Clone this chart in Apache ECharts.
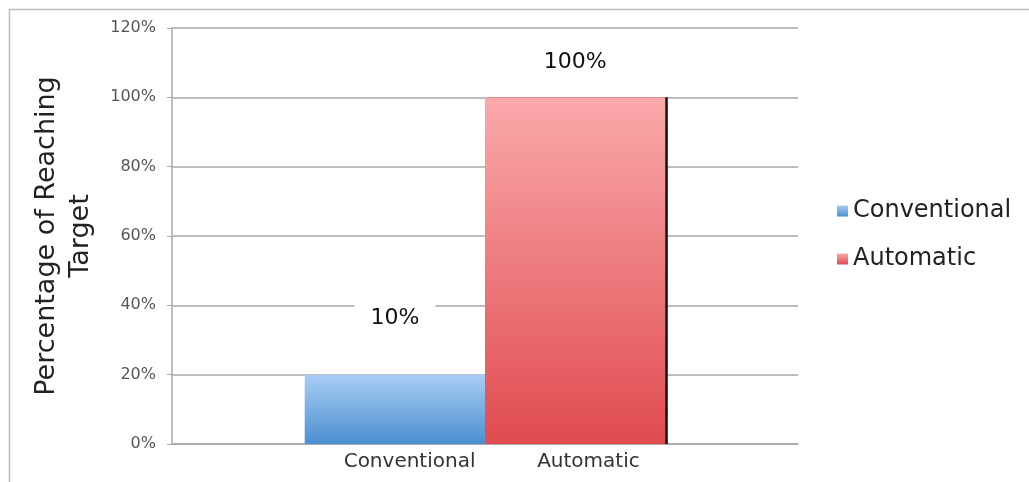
<!DOCTYPE html>
<html>
<head>
<meta charset="utf-8">
<script src="https://cdn.jsdelivr.net/npm/echarts@6/dist/echarts.min.js"></script>
<style>html,body{margin:0;padding:0;background:#fff}#c{width:1029px;height:482px}</style>
</head>
<body>
<div id="c"></div>
<script>
const seriesNames = ['Conventional', 'Automatic'];
const conventionalValues = [20];
const automaticValues = [100];
const barLabels = ['10%', '100%'];
const labelAxisCategories = ['', '', 'Conventional', '', 'Automatic', '', ''];
const yTicks = { min: 0, max: 120, interval: 20 };
const yAxisName = 'Percentage of Reaching\nTarget';

const FONT = "'DejaVu Sans', sans-serif";
const chart = echarts.init(document.getElementById('c'), null, { renderer: 'canvas' });

function grad(top, bottom) {
  return new echarts.graphic.LinearGradient(0, 0, 0, 1, [
    { offset: 0, color: top }, { offset: 1, color: bottom }
  ]);
}

chart.setOption({
  animation: false,
  backgroundColor: '#fff',
  graphic: [{
    type: 'rect', shape: { x: 9.5, y: 9.5, width: 1040, height: 500 },
    style: { fill: 'none', stroke: '#bdbdbd', lineWidth: 1.5 }, silent: true, z: -1
  }],
  grid: { left: 172, right: 231, top: 28, bottom: 38 },
  legend: {
    orient: 'vertical', left: 832, top: 193,
    itemWidth: 11, itemHeight: 11, itemGap: 22,
    icon: 'rect',
    textStyle: { fontFamily: FONT, fontSize: 24, color: '#222', lineHeight: 26 },
    data: seriesNames
  },
  xAxis: [{
    type: 'category', data: ['g'],
    axisLine: { show: true, lineStyle: { color: '#a8a8a8', width: 1.5 } },
    axisTick: { show: false }, axisLabel: { show: false }
  }, {
    type: 'category', data: labelAxisCategories, position: 'bottom',
    axisLine: { show: false }, axisTick: { show: false },
    axisLabel: { interval: 0, margin: 8, fontFamily: FONT, fontSize: 20, color: '#333', padding: [0, 0, 0, 28] }
  }],
  yAxis: {
    type: 'value', min: yTicks.min, max: yTicks.max, interval: yTicks.interval,
    name: yAxisName, nameLocation: 'middle', nameGap: 74, nameRotate: 90,
    nameMoveOverlap: false,
    nameTextStyle: { fontFamily: FONT, fontSize: 27, color: '#222', lineHeight: 34 },
    axisLine: { show: true, lineStyle: { color: '#a8a8a8', width: 1.5 } },
    axisTick: { show: true, length: 5, lineStyle: { color: '#a8a8a8' } },
    axisLabel: { formatter: '{value}%', margin: 16, fontFamily: FONT, fontSize: 16, color: '#555' },
    splitLine: { lineStyle: { color: '#a8a8a8', width: 1.5 } }
  },
  series: [{
    name: seriesNames[0], type: 'bar', xAxisIndex: 0,
    data: conventionalValues, barWidth: '28.8%', barGap: '0%',
    itemStyle: { color: grad('#a9cdf4', '#4a8fd0') },
    label: {
      show: true, position: 'top', distance: 35,
      formatter: () => barLabels[0],
      fontFamily: FONT, fontSize: 22, color: '#111',
      backgroundColor: '#fff', padding: [10, 16]
    },
    z: 3
  }, {
    name: seriesNames[1], type: 'bar', xAxisIndex: 0,
    data: automaticValues, barWidth: '28.8%', barGap: '0%',
    itemStyle: { color: grad('#faa9ab', '#e04b4f'), shadowColor: '#111', shadowOffsetX: 2.5, shadowBlur: 0 },
    label: {
      show: true, position: 'top', distance: 12,
      formatter: () => barLabels[1],
      fontFamily: FONT, fontSize: 22, color: '#111',
      backgroundColor: '#fff', padding: [12, 16]
    },
    z: 2
  }]
});
</script>
</body>
</html>
